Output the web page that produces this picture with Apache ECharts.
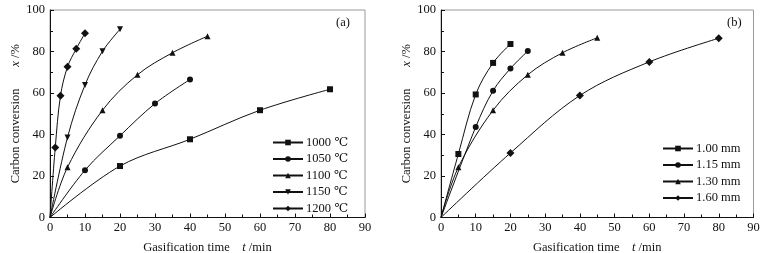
<!DOCTYPE html>
<html>
<head>
<meta charset="utf-8">
<script src="https://cdn.jsdelivr.net/npm/echarts@6/dist/echarts.min.js"></script>
<style>
    html, body { margin: 0; padding: 0; background: #fff; }
    /* 整个图的大小 */
    #chart { width: 765px; height: 253px; }
</style>
</head>
<body>
<div id="chart"></div>
<script>
    // (a) 不同温度
    var tempNames = ['1000 ℃', '1050 ℃', '1100 ℃', '1150 ℃', '1200 ℃'];
    var t1000 = [0, 20, 40, 60, 80];
    var x1000 = [0, 24.8, 37.7, 51.7, 61.8];
    var t1050 = [0, 10, 20, 30, 40];
    var x1050 = [0, 22.8, 39.4, 54.9, 66.5];
    var t1100 = [0, 5, 15, 25, 35, 45];
    var x1100 = [0, 24.2, 51.7, 68.8, 79.4, 87.4];
    var t1150 = [0, 5, 10, 15, 20];
    var x1150 = [0, 38.6, 63.9, 80.1, 90.7];
    var t1200 = [0, 1.5, 3, 5, 7.5, 10];
    var x1200 = [0, 33.7, 58.7, 72.6, 81.3, 88.8];

    // (b) 不同粒径
    var sizeNames = ['1.00 mm', '1.15 mm', '1.30 mm', '1.60 mm'];
    var t100 = [0, 5, 10, 15, 20];
    var x100 = [0, 30.6, 59.3, 74.5, 83.6];
    var t115 = [0, 10, 15, 20, 25];
    var x115 = [0, 43.6, 61.1, 71.8, 80.2];
    var t130 = [0, 5, 15, 25, 35, 45];
    var x130 = [0, 24.2, 51.7, 68.8, 79.4, 86.6];
    var t160 = [0, 20, 40, 60, 80];
    var x160 = [0, 31.1, 58.8, 75, 86.4];

    var xTicks = [0, 90, 10];   // min, max, interval
    var yTicks = [0, 100, 20];

    var font = "'Liberation Serif', 'DejaVu Serif', serif";
    var black = '#111';

    function pts(ts, xs) {
        return ts.map(function (t, i) {
            // 原点只连线，不画点
            if (i === 0) return { value: [t, xs[i]], symbol: 'none' };
            return [t, xs[i]];
        });
    }

    function mkSeries(name, ts, xs, sym, idx, rot) {
        return {
            name: name,
            type: 'line',
            xAxisIndex: idx,
            yAxisIndex: idx,
            data: pts(ts, xs),
            smooth: 0.35,
            symbol: sym,
            symbolSize: sym === 'diamond' ? 8 : 6,
            symbolRotate: rot || 0,
            lineStyle: { color: black, width: 1 },
            itemStyle: { color: black },
            emphasis: { disabled: true },
            z: 3
        };
    }

    function xAxisOpt(idx) {
        return {
            type: 'value', gridIndex: idx,
            min: xTicks[0], max: xTicks[1], interval: xTicks[2],
            name: 'Gasification time    {i|t} /min',
            nameLocation: 'middle', nameGap: 24,
            nameTextStyle: { fontFamily: font, fontSize: 12.5, color: black,
                rich: { i: { fontStyle: 'italic', fontFamily: font, fontSize: 12.5 } } },
            axisLine: { lineStyle: { color: black, width: 1 } },
            axisTick: { inside: true, length: 4, lineStyle: { color: black } },
            minorTick: { show: true, splitNumber: 2, length: 3, lineStyle: { color: black } },
            axisLabel: { fontFamily: font, fontSize: 12.5, color: black, margin: 4 },
            splitLine: { show: false }
        };
    }

    function yAxisOpt(idx) {
        return {
            type: 'value', gridIndex: idx,
            min: yTicks[0], max: yTicks[1], interval: yTicks[2],
            name: 'Carbon conversion       {i|x} /%',
            nameLocation: 'middle', nameGap: 26,
            nameTextStyle: { fontFamily: font, fontSize: 12.5, color: black,
                rich: { i: { fontStyle: 'italic', fontFamily: font, fontSize: 12.5 } } },
            axisLine: { lineStyle: { color: black, width: 1 } },
            axisTick: { inside: true, length: 4, lineStyle: { color: black } },
            minorTick: { show: true, splitNumber: 2, length: 3, lineStyle: { color: black } },
            axisLabel: { fontFamily: font, fontSize: 12.5, color: black, margin: 5 },
            splitLine: { show: false }
        };
    }

    var legendText = { fontFamily: font, fontSize: 12.5, color: black, padding: [0, 0, 0, -2] };

    var chart = echarts.init(document.getElementById('chart'));
    var option = {
        animation: false,
        backgroundColor: '#fff',
        grid: [
            { left: 50, top: 10, width: 315, height: 207.5, outerBoundsMode: 'none',
              show: true, borderColor: '#999', borderWidth: 1 },
            { left: 441, top: 10, width: 312.5, height: 207.5, outerBoundsMode: 'none',
              show: true, borderColor: '#999', borderWidth: 1 }
        ],
        xAxis: [xAxisOpt(0), xAxisOpt(1)],
        yAxis: [yAxisOpt(0), yAxisOpt(1)],
        legend: [
            {
                data: tempNames, orient: 'vertical', left: 267, top: 131,
                itemWidth: 30, itemHeight: 7, itemGap: 3.5,
                textStyle: legendText
            },
            {
                data: sizeNames, orient: 'vertical', left: 657, top: 137,
                itemWidth: 30, itemHeight: 7, itemGap: 3.5,
                textStyle: legendText
            }
        ],
        graphic: [
            { type: 'text', left: 336, top: 16, style: { text: '(a)', font: '12.5px ' + font, fill: black } },
            { type: 'text', left: 727, top: 16, style: { text: '(b)', font: '12.5px ' + font, fill: black } }
        ],
        series: [
            mkSeries(tempNames[0], t1000, x1000, 'rect', 0),
            mkSeries(tempNames[1], t1050, x1050, 'circle', 0),
            mkSeries(tempNames[2], t1100, x1100, 'triangle', 0),
            mkSeries(tempNames[3], t1150, x1150, 'triangle', 0, 180),
            mkSeries(tempNames[4], t1200, x1200, 'diamond', 0),
            mkSeries(sizeNames[0], t100, x100, 'rect', 1),
            mkSeries(sizeNames[1], t115, x115, 'circle', 1),
            mkSeries(sizeNames[2], t130, x130, 'triangle', 1),
            mkSeries(sizeNames[3], t160, x160, 'diamond', 1)
        ]
    };
    chart.setOption(option);
</script>
</body>
</html>
